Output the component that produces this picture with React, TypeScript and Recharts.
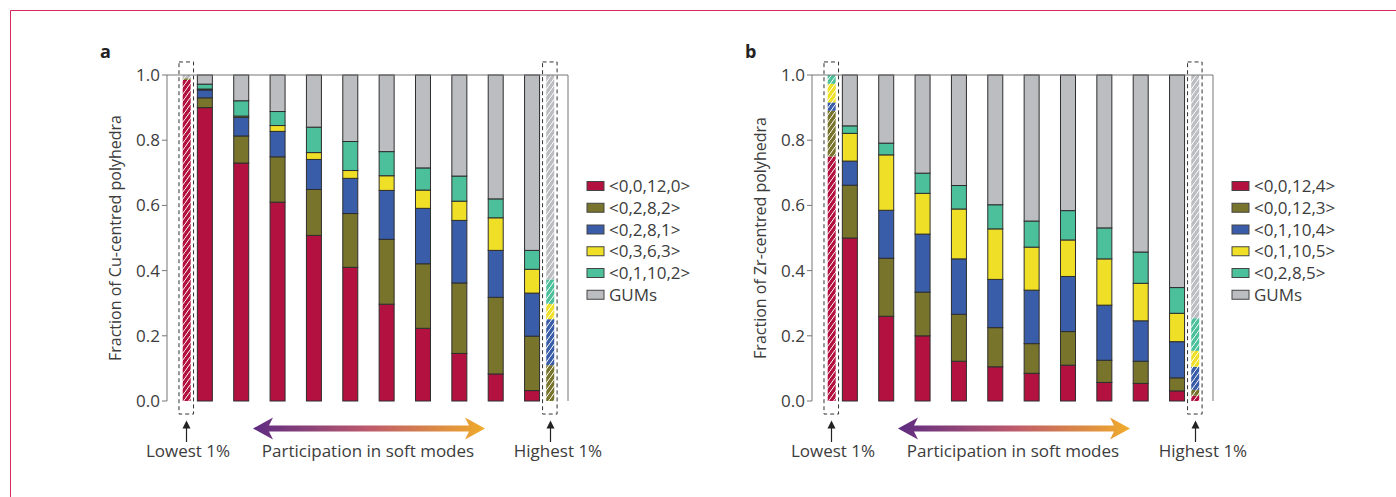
import React from "react";
import { BarChart, Bar, XAxis, YAxis, ReferenceArea, ReferenceLine } from "recharts";

// bar positions: lowest 1%, ten deciles, highest 1%
const positions = [0.5, 1, 2, 3, 4, 5, 6, 7, 8, 9, 10, 10.5];
const hatchedBars = [true, false, false, false, false, false, false, false, false, false, false, true];
const yTicks = [0, 0.2, 0.4, 0.6, 0.8, 1.0];

const colors = ["#b3113f", "#79742b", "#3a5da9", "#efdf26", "#4bc09a", "#bcbdc0"];

// panel a: Cu-centred
const cuLabels = ["<0,0,12,0>", "<0,2,8,2>", "<0,2,8,1>", "<0,3,6,3>", "<0,1,10,2>", "GUMs"];
const cu_0_0_12_0 = [0.985, 0.9, 0.73, 0.61, 0.508, 0.41, 0.297, 0.223, 0.146, 0.083, 0.032, 0.0];
const cu_0_2_8_2 = [0.005, 0.03, 0.083, 0.139, 0.141, 0.165, 0.199, 0.198, 0.216, 0.235, 0.167, 0.11];
const cu_0_2_8_1 = [0, 0.024, 0.057, 0.078, 0.092, 0.108, 0.15, 0.17, 0.192, 0.144, 0.132, 0.141];
const cu_0_3_6_3 = [0, 0.003, 0.004, 0.018, 0.021, 0.024, 0.045, 0.056, 0.059, 0.1, 0.073, 0.047];
const cu_0_1_10_2 = [0, 0.015, 0.047, 0.043, 0.078, 0.089, 0.074, 0.068, 0.077, 0.058, 0.058, 0.075];
const cuGUMs = [0.01, 0.028, 0.079, 0.112, 0.16, 0.204, 0.235, 0.285, 0.31, 0.38, 0.538, 0.627];

// panel b: Zr-centred
const zrLabels = ["<0,0,12,4>", "<0,0,12,3>", "<0,1,10,4>", "<0,1,10,5>", "<0,2,8,5>", "GUMs"];
const zr_0_0_12_4 = [0.75, 0.5, 0.26, 0.2, 0.122, 0.105, 0.085, 0.11, 0.057, 0.054, 0.031, 0.016];
const zr_0_0_12_3 = [0.14, 0.162, 0.178, 0.134, 0.144, 0.12, 0.091, 0.103, 0.068, 0.068, 0.04, 0.018];
const zr_0_1_10_4 = [0.026, 0.074, 0.147, 0.178, 0.17, 0.148, 0.164, 0.169, 0.169, 0.124, 0.111, 0.071];
const zr_0_1_10_5 = [0.057, 0.085, 0.17, 0.125, 0.153, 0.155, 0.132, 0.112, 0.142, 0.115, 0.087, 0.049];
const zr_0_2_8_5 = [0.027, 0.023, 0.036, 0.062, 0.072, 0.074, 0.08, 0.09, 0.095, 0.096, 0.079, 0.1];
const zrGUMs = [0, 0.156, 0.209, 0.301, 0.339, 0.398, 0.448, 0.416, 0.469, 0.543, 0.652, 0.746];

const FONT = "'Open Sans', sans-serif";
const TEXT = "#3c3c3c";

const makeShape = (color: string, patId: string) => (props: any) => {
  const { x, y, width, height, payload } = props;
  if (!height || height <= 0) return <g />;
  if (payload.hatched) {
    const w = 8;
    return <rect x={x + width / 2 - w / 2} y={y} width={w} height={height} fill={`url(#${patId})`} />;
  }
  return <rect x={x} y={y} width={width} height={height} fill={color} stroke="#2e2e2e" strokeWidth={1} />;
};

type PanelProps = {
  letter: string;
  yTitle: string;
  labels: string[];
  series: number[][];
  left: number;
};

const Panel = ({ letter, yTitle, labels, series, left }: PanelProps) => {
  const rows = positions.map((x, i) => {
    const row: Record<string, any> = { x, hatched: hatchedBars[i] };
    series.forEach((s, k) => (row[`s${k}`] = s[i]));
    return row;
  });
  const gid = `grad-${letter}`;

  return (
    <div style={{ position: "absolute", left, top: 0, width: 700, height: 497 }}>
      <BarChart
        width={700}
        height={497}
        data={rows}
        margin={{ top: 75, right: 132, bottom: 96, left: 117 }}
        style={{ fontFamily: FONT }}
      >
        <defs>
          {colors.map((c, k) => (
            <pattern key={k} id={`${letter}-hatch-${k}`} patternUnits="userSpaceOnUse" width={5} height={7}>
              <rect width={5} height={7} fill={c} />
              <path d="M0,7 L5,0" stroke="#fff" strokeWidth={1} />
            </pattern>
          ))}
        </defs>
        <XAxis
          type="number"
          dataKey="x"
          domain={[-0.03, 11]}
          tick={false}
          tickLine={false}
          axisLine={{ stroke: "#777" }}
          height={0}
        />
        <YAxis
          type="number"
          domain={[0, 1]}
          ticks={yTicks}
          interval={0}
          tickFormatter={(v: number) => v.toFixed(1)}
          width={50}
          tickSize={5}
          tickMargin={2}
          axisLine={{ stroke: "#777" }}
          tickLine={{ stroke: "#777" }}
          tick={{ fontSize: 17, fill: TEXT, fontFamily: FONT }}
        />
        <ReferenceLine y={1} stroke="#777" />
        <ReferenceLine x={11} stroke="#777" />
        {series.map((_, k) => (
          <Bar
            key={k}
            dataKey={`s${k}`}
            stackId="s"
            barSize={15}
            isAnimationActive={false}
            shape={makeShape(colors[k], `${letter}-hatch-${k}`)}
          />
        ))}
        <ReferenceArea x1={0.3} x2={0.7} y1={-0.04} y2={1.04} ifOverflow="visible" fill="none" stroke="#333" strokeDasharray="4 3" />
        <ReferenceArea x1={10.3} x2={10.7} y1={-0.04} y2={1.04} ifOverflow="visible" fill="none" stroke="#333" strokeDasharray="4 3" />
      </BarChart>

      <svg width={700} height={497} style={{ position: "absolute", left: 0, top: 0, pointerEvents: "none", fontFamily: FONT }}>
        <defs>
          <linearGradient id={gid} x1="0" x2="1" y1="0" y2="0">
            <stop offset="0" stopColor="#5e2c82" />
            <stop offset="0.5" stopColor="#bd5a6c" />
            <stop offset="1" stopColor="#f0ab2b" />
          </linearGradient>
        </defs>
        <text x={100} y={58} fontSize={18} fontWeight="bold" fill="#222">{letter}</text>
        <text x={121} y={238} fontSize={16} fill={TEXT} textAnchor="middle" transform="rotate(-90 121 238)">{yTitle}</text>

        {labels.map((lab, k) => {
          const cy = 186 + k * 21.75;
          return (
            <g key={lab}>
              <rect x={587} y={cy - 4.5} width={17} height={9} fill={colors[k]} stroke="#444" strokeWidth={1} />
              <text x={609} y={cy + 6} fontSize={17} fill={TEXT}>{lab}</text>
            </g>
          );
        })}

        {[186.5, 550.5].map((ax) => (
          <g key={ax}>
            <line x1={ax} x2={ax} y1={442} y2={426} stroke="#222" strokeWidth={1.2} />
            <polygon points={`${ax},420.5 ${ax - 4},428.5 ${ax + 4},428.5`} fill="#222" />
          </g>
        ))}
        <polygon
          points="253,428.5 273,417.5 269,425.5 469,425.5 465,417.5 485,428.5 465,439.5 469,431.5 269,431.5 273,439.5"
          fill={`url(#${gid})`}
        />
        <text x={188} y={457} fontSize={17} fill={TEXT} textAnchor="middle">Lowest 1%</text>
        <text x={368} y={457} fontSize={17} fill={TEXT} textAnchor="middle">Participation in soft modes</text>
        <text x={558} y={457} fontSize={17} fill={TEXT} textAnchor="middle">Highest 1%</text>
      </svg>
    </div>
  );
};

export default function App() {
  return (
    <div style={{ position: "absolute", left: 0, top: 0, width: 1396, height: 497, background: "#fff", overflow: "hidden" }}>
      <svg width={1396} height={497} style={{ position: "absolute", left: 0, top: 0 }}>
        <line x1={10.5} x2={1396} y1={10.5} y2={10.5} stroke="#d42a5e" strokeWidth={1} />
        <line x1={10.5} x2={10.5} y1={10.5} y2={497} stroke="#d42a5e" strokeWidth={1} />
      </svg>
      <Panel
        letter="a"
        yTitle="Fraction of Cu-centred polyhedra"
        labels={cuLabels}
        series={[cu_0_0_12_0, cu_0_2_8_2, cu_0_2_8_1, cu_0_3_6_3, cu_0_1_10_2, cuGUMs]}
        left={0}
      />
      <Panel
        letter="b"
        yTitle="Fraction of Zr-centred polyhedra"
        labels={zrLabels}
        series={[zr_0_0_12_4, zr_0_0_12_3, zr_0_1_10_4, zr_0_1_10_5, zr_0_2_8_5, zrGUMs]}
        left={645}
      />
    </div>
  );
}
